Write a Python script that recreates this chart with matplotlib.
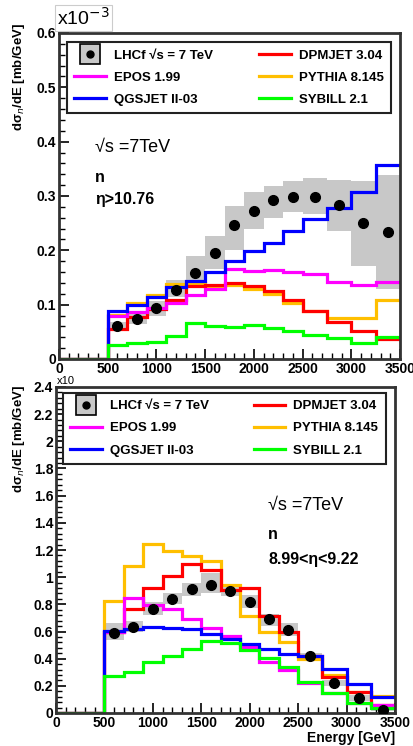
import numpy as np
import matplotlib
matplotlib.use("Agg")
import matplotlib.pyplot as plt
from matplotlib.lines import Line2D
from matplotlib.ticker import MultipleLocator

plt.rcParams['font.family'] = ['Liberation Sans', 'DejaVu Sans']

# ---------------- data ----------------
edges = [0, 500, 700, 900, 1100, 1300, 1500, 1700, 1900, 2100, 2300, 2500, 2750, 3000, 3250, 3500]
centers = [600, 800, 1000, 1200, 1400, 1600, 1800, 2000, 2200, 2400, 2625, 2875, 3125, 3375]

# top panel: eta > 10.76  (units 1e-3 mb/GeV)
top_data = [0.060, 0.074, 0.094, 0.127, 0.159, 0.196, 0.247, 0.273, 0.293, 0.298, 0.299, 0.284, 0.250, 0.234]
top_sys_lo = [0.052, 0.065, 0.080, 0.115, 0.140, 0.165, 0.200, 0.239, 0.260, 0.271, 0.267, 0.236, 0.171, 0.128]
top_sys_hi = [0.068, 0.085, 0.106, 0.145, 0.190, 0.227, 0.281, 0.308, 0.319, 0.327, 0.333, 0.330, 0.327, 0.339]
top_dpmjet = [0.0, 0.055, 0.077, 0.092, 0.109, 0.134, 0.137, 0.140, 0.134, 0.125, 0.109, 0.089, 0.069, 0.051, 0.037]
top_epos = [0.0, 0.080, 0.087, 0.093, 0.103, 0.117, 0.128, 0.166, 0.162, 0.164, 0.160, 0.156, 0.141, 0.136, 0.142]
top_pythia = [0.0, 0.081, 0.103, 0.118, 0.138, 0.139, 0.134, 0.137, 0.128, 0.120, 0.103, 0.089, 0.075, 0.075, 0.109]
top_qgsjet = [0.0, 0.088, 0.099, 0.115, 0.133, 0.143, 0.160, 0.180, 0.199, 0.214, 0.236, 0.257, 0.277, 0.308, 0.357]
top_sibyll = [0.0, 0.026, 0.030, 0.032, 0.043, 0.066, 0.060, 0.059, 0.062, 0.057, 0.051, 0.044, 0.038, 0.029, 0.041]

# bottom panel: 8.99 < eta < 9.22
bot_data = [0.589, 0.633, 0.766, 0.837, 0.912, 0.945, 0.895, 0.820, 0.689, 0.613, 0.421, 0.219, 0.109, 0.025]
bot_sys_lo = [0.540, 0.600, 0.720, 0.800, 0.860, 0.880, 0.860, 0.770, 0.640, 0.570, 0.390, 0.200, 0.090, 0.015]
bot_sys_hi = [0.660, 0.680, 0.820, 0.880, 0.960, 1.030, 0.930, 0.870, 0.730, 0.660, 0.440, 0.240, 0.130, 0.035]
bot_dpmjet = [0.0, 0.600, 0.764, 0.920, 1.010, 1.097, 1.056, 0.903, 0.917, 0.715, 0.600, 0.416, 0.265, 0.155, 0.058]
bot_epos = [0.0, 0.600, 0.844, 0.796, 0.769, 0.690, 0.625, 0.564, 0.484, 0.375, 0.314, 0.221, 0.144, 0.070, 0.058]
bot_pythia = [0.0, 0.822, 1.080, 1.243, 1.190, 1.158, 1.117, 0.940, 0.715, 0.594, 0.520, 0.400, 0.277, 0.156, 0.125]
bot_qgsjet = [0.0, 0.606, 0.618, 0.630, 0.625, 0.618, 0.580, 0.545, 0.509, 0.472, 0.436, 0.416, 0.326, 0.217, 0.118]
bot_sibyll = [0.0, 0.270, 0.302, 0.375, 0.423, 0.472, 0.528, 0.516, 0.465, 0.406, 0.338, 0.229, 0.148, 0.075, 0.034]

labels = ["LHCf √s = 7 TeV", "EPOS 1.99", "QGSJET II-03", "DPMJET 3.04", "PYTHIA 8.145", "SYBILL 2.1"]
colors = {"DPMJET": "#ff0000", "EPOS": "#ff00ff", "PYTHIA": "#ffbf00", "QGSJET": "#0000ff", "SYBILL": "#00ff00"}

W, H = 414, 746
fig = plt.figure(figsize=(W / 100, H / 100), dpi=100)


def fx(px):
    return px / W


def fy(py):
    return 1 - py / H


def panel(rect, data, lo, hi, models, ymax, yminor, ticklabels):
    ax = fig.add_axes(rect)
    e = np.array(edges, dtype=float)
    widths = np.diff(e)[1:]
    ax.bar(e[1:-1], np.array(hi) - np.array(lo), bottom=lo, width=widths, align='edge',
           color='#c8c8c8', edgecolor='none', zorder=1)
    for name, vals in models:
        ax.stairs(vals, e, baseline=None, color=colors[name], lw=2.3, zorder=2)
    ax.plot(centers, data, 'o', color='black', ms=7, zorder=4)
    ax.set_xlim(0, 3500)
    ax.set_ylim(0, ymax)
    ax.xaxis.set_major_locator(MultipleLocator(500))
    ax.xaxis.set_minor_locator(MultipleLocator(100))
    ax.yaxis.set_minor_locator(MultipleLocator(yminor))
    ax.set_yticks(ticklabels[0])
    ax.set_yticklabels(ticklabels[1])
    ax.tick_params(which='both', direction='in', top=False, right=False)
    ax.tick_params(which='major', length=7, width=1.2, labelsize=10, pad=2)
    ax.tick_params(which='minor', length=4, width=1.0)
    for t in ax.get_xticklabels() + ax.get_yticklabels():
        t.set_fontweight('bold')
    for s in ax.spines.values():
        s.set_linewidth(2.0)
        s.set_color('#333333')
    return ax


def add_legend(ax, anchor):
    data_handle = (Line2D([], [], marker='s', color='#c8c8c8', markeredgecolor='black',
                          markeredgewidth=1.2, ls='none', ms=15),
                   Line2D([], [], marker='o', color='black', ls='none', ms=5))
    handles = [data_handle,
               Line2D([], [], color=colors["EPOS"], lw=2.3),
               Line2D([], [], color=colors["QGSJET"], lw=2.3),
               Line2D([], [], color=colors["DPMJET"], lw=2.3),
               Line2D([], [], color=colors["PYTHIA"], lw=2.3),
               Line2D([], [], color=colors["SYBILL"], lw=2.3)]
    leg = ax.legend(handles, labels, ncol=2, loc='upper left', bbox_to_anchor=anchor,
                    mode='expand', borderaxespad=0, fancybox=False, framealpha=1,
                    edgecolor='#222222', prop={'weight': 'bold', 'size': 9.5},
                    handlelength=2.4, handletextpad=0.6, labelspacing=0.75,
                    borderpad=0.55, columnspacing=1.0)
    leg.get_frame().set_linewidth(1.5)
    leg.set_zorder(10)
    return leg


# ---------------- top panel ----------------
top_models = [("PYTHIA", top_pythia), ("DPMJET", top_dpmjet), ("EPOS", top_epos),
              ("QGSJET", top_qgsjet), ("SYBILL", top_sibyll)]
ax1 = panel([fx(59), fy(359), (400 - 59) / W, (359 - 33) / H], top_data, top_sys_lo, top_sys_hi,
            top_models, 0.6, 0.02,
            ([0, 0.1, 0.2, 0.3, 0.4, 0.5, 0.6], ["0", "0.1", "0.2", "0.3", "0.4", "0.5", "0.6"]))
add_legend(ax1, (0.023, 0.972, 0.951, 0.0))
ax1.text(370, 0.648, "√s =7TeV", transform=ax1.get_xaxis_transform(), fontsize=13, va='center')
ax1.text(370, 0.558, "n", transform=ax1.get_xaxis_transform(), fontsize=11.5, fontweight='bold', va='center')
ax1.text(370, 0.488, "η>10.76", transform=ax1.get_xaxis_transform(), fontsize=11.5, fontweight='bold', va='center')

fig.text(fx(57), fy(29), "x10$^{-3}$", fontsize=14, va='bottom', ha='left',
         bbox=dict(facecolor='white', edgecolor='#cccccc', lw=0.8, pad=1.5))
fig.text(fx(19), fy(23), "dσ$_n$/dE [mb/GeV]", rotation=90, fontsize=9.5, fontweight='bold',
         ha='center', va='top')

# ---------------- bottom panel ----------------
bot_models = [("PYTHIA", bot_pythia), ("DPMJET", bot_dpmjet), ("EPOS", bot_epos),
              ("QGSJET", bot_qgsjet), ("SYBILL", bot_sibyll)]
ax2 = panel([fx(56), fy(713), (395 - 56) / W, (713 - 387) / H], bot_data, bot_sys_lo, bot_sys_hi,
            bot_models, 2.4, 0.04,
            ([0, 0.2, 0.4, 0.6, 0.8, 1.0, 1.2, 1.4, 1.6, 1.8, 2.0, 2.2, 2.4],
             ["0", "0.2", "0.4", "0.6", "0.8", "1", "1.2", "1.4", "1.6", "1.8", "2", "2.2", "2.4"]))
add_legend(ax2, (0.021, 0.982, 0.951, 0.0))
ax2.text(2190, 0.635, "√s =7TeV", transform=ax2.get_xaxis_transform(), fontsize=13, va='center')
ax2.text(2190, 0.549, "n", transform=ax2.get_xaxis_transform(), fontsize=11.5, fontweight='bold', va='center')
ax2.text(2190, 0.470, "8.99<η<9.22", transform=ax2.get_xaxis_transform(), fontsize=11.5, fontweight='bold', va='center')
ax2.set_xlabel("Energy [GeV]", fontweight='bold', fontsize=10, loc='right', labelpad=1)

fig.text(fx(57), fy(381), "x10", fontsize=8, va='center', ha='left')
fig.text(fx(19), fy(385), "dσ$_n$/dE [mb/GeV]", rotation=90, fontsize=9.5, fontweight='bold',
         ha='center', va='top')

fig.savefig("out.png", dpi=100)
